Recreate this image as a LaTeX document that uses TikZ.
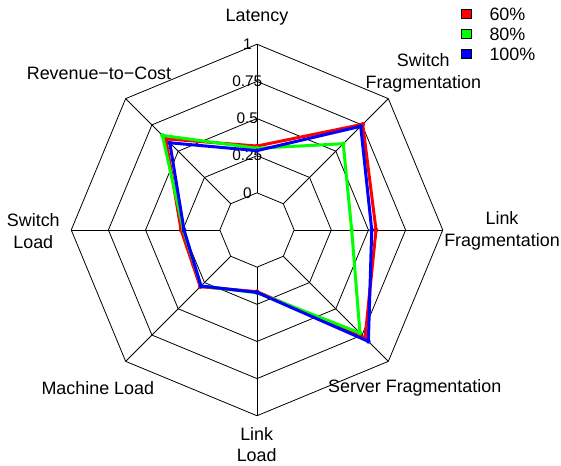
\documentclass[tikz,border=0pt]{standalone}
\usepackage{fontspec}
\setmainfont{Liberation Sans}
\definecolor{sred}{RGB}{255,0,0}
\definecolor{sgreen}{RGB}{0,255,0}
\definecolor{sblue}{RGB}{0,0,255}
\tikzset{
  gridline/.style={black, line width=0.8pt},
  series/.style={line width=3pt, line join=round},
  axlabel/.style={font=\fontsize{17.9}{21.7}\selectfont, align=center, inner sep=0pt},
  ticklabel/.style={font=\fontsize{15.4}{18}\selectfont, inner sep=0pt},
  legbox/.style={draw=black, line width=0.5pt, minimum width=10pt, minimum height=9pt, inner sep=0pt},
  legtext/.style={font=\fontsize{17.9}{21.7}\selectfont, anchor=west, inner sep=0pt},
}
\begin{document}
\begin{tikzpicture}[x=1pt,y=1pt]
\useasboundingbox (0,0) rectangle (561,465);
\begin{scope}[shift={(257,235)}]
  % octagon rings
  \foreach \k in {1,...,5} {
    \pgfmathsetmacro\r{37.15*\k}
    \draw[gridline] (0:\r) \foreach \a in {45,90,...,315} { -- (\a:\r) } -- cycle;
  }
  % spokes
  \foreach \a in {0,45,...,315}
    \draw[gridline] (\a:37.15) -- (\a:185.75);
  % tick labels
  \foreach \t [count=\k] in {0,0.25,0.5,0.75,1}
    \node[ticklabel] (tick\k) at (-9.7,{37.15*\k}) {\t};
  % data coordinates
  \foreach \v [count=\i] in {0.315,0.756,0.551,0.778,0.165,0.29,0.261,0.618}
    \coordinate (r\i) at ({135-45*\i}:{37.15*(1+4*\v)});
  \foreach \v [count=\i] in {0.30,0.571,0.387,0.73,0.172,0.283,0.245,0.65}
    \coordinate (g\i) at ({135-45*\i}:{37.15*(1+4*\v)});
  \foreach \v [count=\i] in {0.284,0.737,0.522,0.81,0.17,0.283,0.241,0.58}
    \coordinate (b\i) at ({135-45*\i}:{37.15*(1+4*\v)});
  \draw[series,sred] (r1) -- (r2) -- (r3) -- (r4) -- (r5) -- (r6) -- (r7) -- (r8) -- cycle;
  \foreach \i in {1,...,8} \fill[sred] (r\i) circle (2.3);
  \draw[series,sgreen] (g1) -- (g2) -- (g3) -- (g4) -- (g5) -- (g6) -- (g7) -- (g8) -- cycle;
  \foreach \i in {1,...,8} \fill[sgreen] (g\i) circle (2.3);
  \draw[series,sblue] (b1) -- (b2) -- (b3) -- (b4) -- (b5) -- (b6) -- (b7) -- (b8) -- cycle;
  \foreach \i in {1,...,8} \fill[sblue] (b\i) circle (2.3);
\end{scope}
% axis labels
\node[axlabel] (latency) at (257,448) {Latency};
\node[axlabel] (swfrag) at (423.3,391.8) {Switch\\Fragmentation};
\node[axlabel] (lnfrag) at (502,234.1) {Link\\Fragmentation};
\node[axlabel] (svfrag) at (414.7,76.7) {Server Fragmentation};
\node[axlabel] (lnload) at (256.7,20.5) {Link\\Load};
\node[axlabel] (mcload) at (97.8,76.7) {Machine Load};
\node[axlabel] (swload) at (33.3,234.1) {Switch\\Load};
\node[axlabel] (rev) at (99,391.7) {Revenue−to−Cost};
% legend
\node[legbox, fill=sred] (leg1) at (466.3,451) {};
\node[legbox, fill=sgreen] (leg2) at (466.3,431) {};
\node[legbox, fill=sblue] (leg3) at (466.3,411) {};
\node[legtext] (legt1) at (489.3,451) {60\%};
\node[legtext] (legt2) at (489.3,431) {80\%};
\node[legtext] (legt3) at (489.3,411) {100\%};
\end{tikzpicture}
\end{document}
